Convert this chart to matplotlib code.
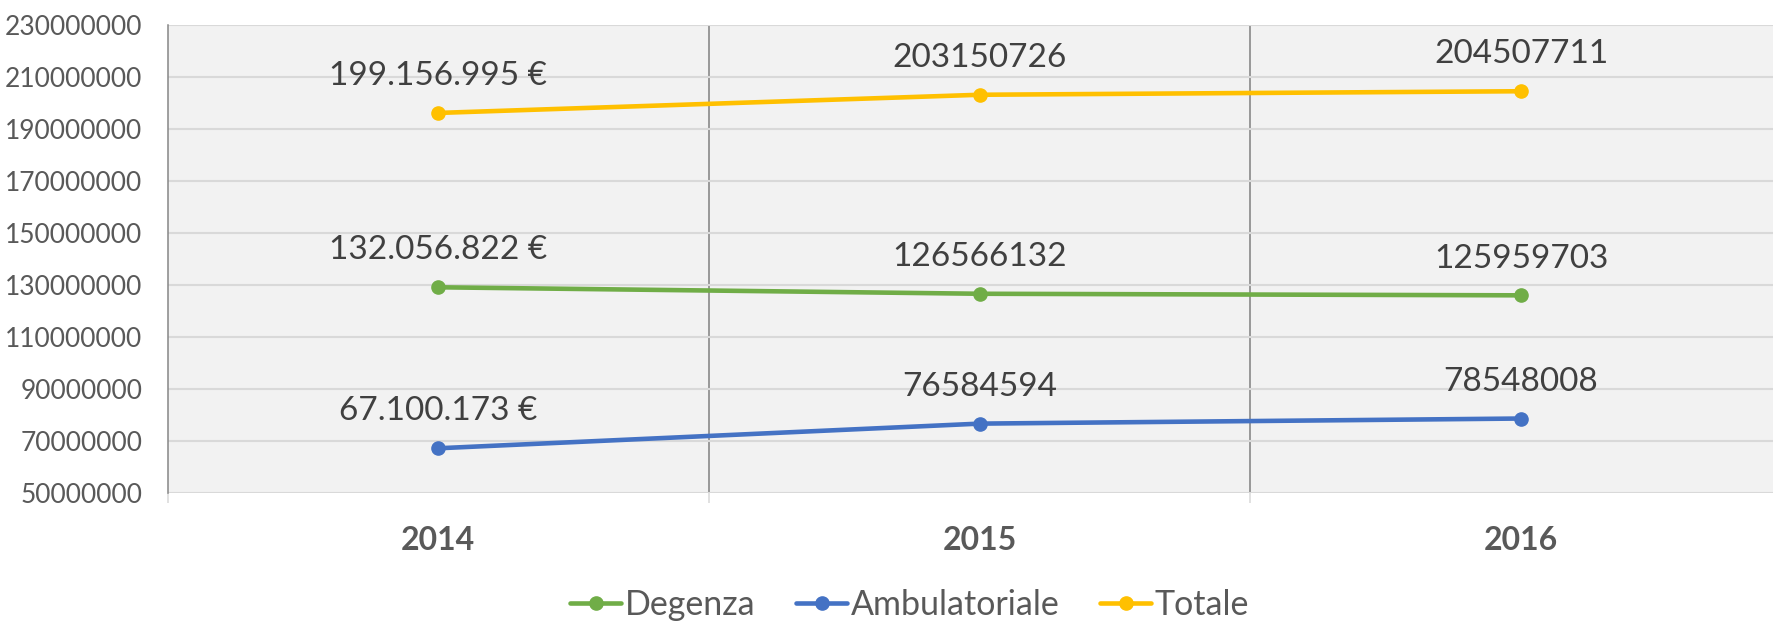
import numpy as np
import matplotlib
matplotlib.use("Agg")
import matplotlib.pyplot as plt
from matplotlib.ticker import FixedLocator, FuncFormatter

# data
years = ["2014", "2015", "2016"]
degenza = [129056822, 126566132, 125959703]
ambulatoriale = [67100173, 76584594, 78548008]
totale = [196156995, 203150726, 204507711]

degenza_labels = ["132.056.822 €", "126566132", "125959703"]
ambulatoriale_labels = ["67.100.173 €", "76584594", "78548008"]
totale_labels = ["199.156.995 €", "203150726", "204507711"]

series = [
    ("Degenza", degenza, degenza_labels, "#70AD47"),
    ("Ambulatoriale", ambulatoriale, ambulatoriale_labels, "#4472C4"),
    ("Totale", totale, totale_labels, "#FFC000"),
]

y_min, y_max, y_step = 50000000, 230000000, 20000000

plt.rcParams["font.family"] = ["Lato", "DejaVu Sans"]

W, H = 1774, 623
fig = plt.figure(figsize=(W / 100, H / 100), dpi=100)
# plot area runs a bit past the right edge, as in the original
ax = fig.add_axes([167.6 / W, 1 - 492.7 / H, (1791.7 - 167.6) / W, (492.7 - 25) / H])
ax.set_facecolor("#F2F2F2")

x = np.arange(len(years))
ax.set_xlim(-0.5, len(years) - 0.5)
ax.set_ylim(y_min, y_max)
ax.yaxis.set_major_locator(FixedLocator(np.arange(y_min, y_max + 1, y_step)))
ax.yaxis.set_major_formatter(FuncFormatter(lambda v, p: f"{int(round(v))}"))

ax.grid(axis="y", color="#D9D9D9", linewidth=1.5, zorder=0)
for b in np.arange(0.5, len(years) - 0.5, 1.0):
    ax.axvline(b, color="#808080", linewidth=1.1, zorder=1)

for name, vals, labels, color in series:
    ax.plot(x, vals, color=color, linewidth=3.3, marker="o", markersize=9.5,
            label=name, zorder=3, solid_capstyle="round")
    for xi, v, lab in zip(x, vals, labels):
        ax.annotate(lab, (xi, v), xytext=(0, 26.5), textcoords="offset points",
                    ha="center", va="center", fontsize=24, color="#404040", zorder=4)

ax.set_xticks(x)
ax.set_xticklabels(years, fontsize=23, fontweight="bold", color="#595959")
ax.set_xticks(np.arange(-0.5, len(years), 1.0), minor=True)
ax.tick_params(axis="x", which="major", length=0, pad=24)
ax.tick_params(axis="x", which="minor", length=7.5, width=1.1, color="#D9D9D9")
ax.tick_params(axis="y", length=0, pad=18, labelsize=19, labelcolor="#595959")

for s in ["top", "right", "bottom"]:
    ax.spines[s].set_visible(False)
ax.spines["left"].set_color("#868686")
ax.spines["left"].set_linewidth(1.1)

leg = fig.legend(loc="center", bbox_to_anchor=(909.5 / W, 1 - 605 / H), ncol=3,
                 frameon=False, fontsize=24.5, handlelength=1.5, handletextpad=0.1,
                 columnspacing=1.2, borderpad=0)
for t in leg.get_texts():
    t.set_color("#595959")

fig.savefig("out.png", dpi=100)
